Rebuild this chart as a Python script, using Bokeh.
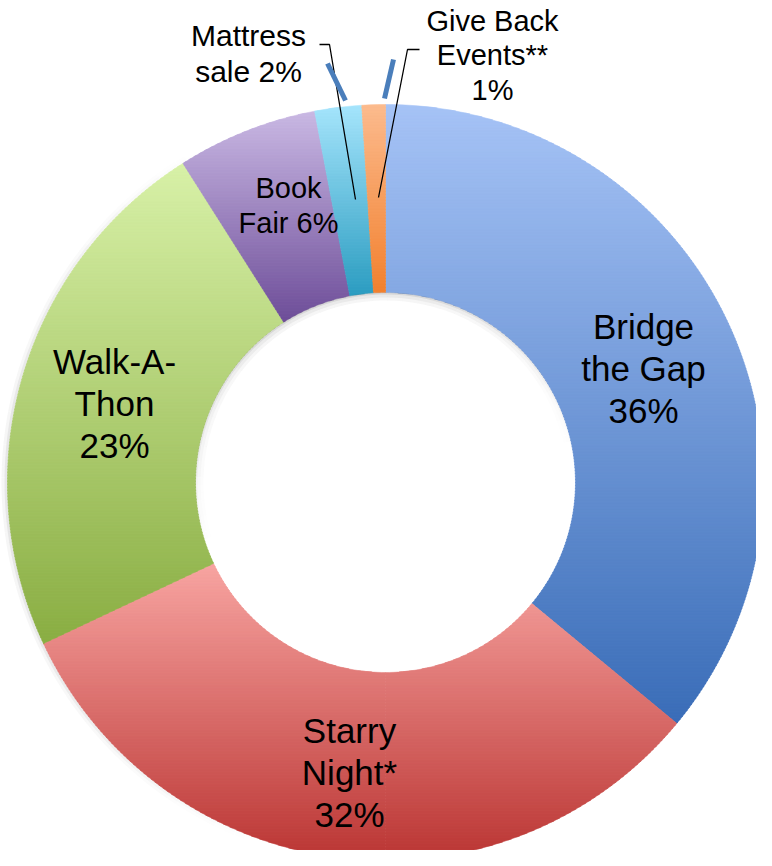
import numpy as np
from bokeh.plotting import figure
from bokeh.models import Range1d
from bokeh.core.properties import value
from bokeh.embed import file_html
from bokeh.resources import INLINE

# ---- data ----
categories = ["Bridge the Gap", "Starry Night*", "Walk-A-Thon", "Book Fair", "Mattress sale", "Give Back Events**"]
shares = [36, 32, 23, 6, 2, 1]
label_names = ["Bridge\nthe Gap\n", "Starry\nNight*\n", "Walk-A-\nThon\n", "Book\nFair ", "Mattress\nsale ", "Give Back\nEvents**\n"]

# ---- styles ----
top_colors = ["#a6c3f6", "#f8a5a2", "#d8f1a8", "#cab9e4", "#a6e5fc", "#fcbb8e"]
bottom_colors = ["#3a6db8", "#bb3634", "#8aae43", "#6e4e99", "#2c9dc1", "#f2812f"]
label_pos = [(651, 376), (357, 780), (122, 411), (296, 213), (256, 61), (500, 63)]
label_size = ["35px", "35px", "35px", "29px", "30px", "29px"]

CX, CY, R_OUT, R_IN = 393.0, 490.0, 378.0, 190.0
W, H = 756, 850

p = figure(width=W, height=H, output_backend="svg", toolbar_location=None,
           x_range=Range1d(8, 8 + W), y_range=Range1d(8 + H, 8),
           x_axis_type=None, y_axis_type=None, min_border=0,
           outline_line_color=None, background_fill_color="white")
p.grid.visible = False


def hex2rgb(h):
    h = h.lstrip("#")
    return np.array([int(h[i:i + 2], 16) for i in (0, 2, 4)], dtype=float)


def rgb2hex(c):
    c = np.clip(np.round(c), 0, 255).astype(int)
    return "#%02x%02x%02x" % tuple(c)


def sh_clip(pts, inside, yc):
    out = []
    n = len(pts)
    for i in range(n):
        cur, prev = pts[i], pts[i - 1]
        cin, pin = inside(cur), inside(prev)
        if cin:
            if not pin:
                t = (yc - prev[1]) / (cur[1] - prev[1])
                out.append((prev[0] + t * (cur[0] - prev[0]), yc))
            out.append(cur)
        elif pin:
            t = (yc - prev[1]) / (cur[1] - prev[1])
            out.append((prev[0] + t * (cur[0] - prev[0]), yc))
    return out


def pt(r, t):
    return (CX + r * np.sin(t), CY - r * np.cos(t))


def sector(a0, a1):
    n = max(4, int((a1 - a0) / (2 * np.pi) * 300))
    th = np.linspace(a0, a1, n)
    return [pt(R_OUT, t) for t in th] + [pt(R_IN, t) for t in th[::-1]]


def shadow(r, t0, t1, width, alpha, side):
    # thin soft shadow drawn as short segments with a fading envelope
    th = np.linspace(t0, t1, 80)
    xs0, ys0, xs1, ys1, al = [], [], [], [], []
    for k in range(len(th) - 1):
        a, b = pt(r, th[k]), pt(r, th[k + 1])
        m = np.sin(np.pi * (k + 0.5) / (len(th) - 1))
        xs0.append(a[0]); ys0.append(a[1]); xs1.append(b[0]); ys1.append(b[1])
        al.append(alpha * m)
    p.segment(xs0, ys0, xs1, ys1, line_color="#606060", line_alpha=al, line_width=width)


xs_all, ys_all, col_all = [], [], []
total = float(sum(shares))
start = 0.0
for i, v in enumerate(shares):
    a0 = start / total * 2 * np.pi
    a1 = (start + v) / total * 2 * np.pi
    start += v
    cuts = [a0] + [c for c in (np.pi,) if a0 < c < a1] + [a1]
    pieces = [sector(cuts[k], cuts[k + 1]) for k in range(len(cuts) - 1)]
    whole = sector(a0, a1)
    ymin = min(q[1] for q in whole)
    ymax = max(q[1] for q in whole)
    c0, c1 = hex2rgb(top_colors[i]), hex2rgb(bottom_colors[i])
    step = 3.0
    for poly in pieces:
        y = ymin
        while y < ymax:
            ya, yb = y - 0.6, min(y + step + 0.6, ymax + 0.01)
            part = sh_clip(poly, lambda q: q[1] >= ya, ya)
            if part:
                part = sh_clip(part, lambda q: q[1] <= yb, yb)
            if len(part) >= 3:
                tt = ((y + step / 2) - ymin) / (ymax - ymin)
                tt = min(max(tt, 0), 1)
                xs_all.append([q[0] for q in part])
                ys_all.append([q[1] for q in part])
                col_all.append(rgb2hex(c0 + (c1 - c0) * tt))
            y += step

# soft outer shadow on the left rim
for w, a in [(6, 0.06), (3, 0.10)]:
    shadow(R_OUT + w / 2, np.radians(200), np.radians(330), w, a, "out")

p.patches(xs_all, ys_all, fill_color=col_all, line_color=col_all, line_width=0.5)

# soft inner shadow along the top of the hole
for w, a in [(8, 0.06), (5, 0.08), (2, 0.14)]:
    shadow(R_IN - w / 2, np.radians(-110), np.radians(80), w, a, "in")

# leader lines
p.line([327, 337, 363], [52, 52, 207], line_color="black", line_width=1.3)
p.line([427, 415, 386], [57, 57, 205], line_color="black", line_width=1.3)
p.segment(x0=[335, 401], y0=[71, 67], x1=[353, 392], y1=[108, 106],
          line_color="#4a7ebb", line_width=5)

texts = [label_names[i] + f"{shares[i]}%" for i in range(len(shares))]
p.text(x=[q[0] for q in label_pos], y=[q[1] for q in label_pos], text=texts,
       text_align="center", text_baseline="middle", text_color="black",
       text_font=value("Liberation Sans"), text_font_size=label_size,
       text_line_height=1.07)

open("out.html", "w").write(file_html(p, INLINE))
